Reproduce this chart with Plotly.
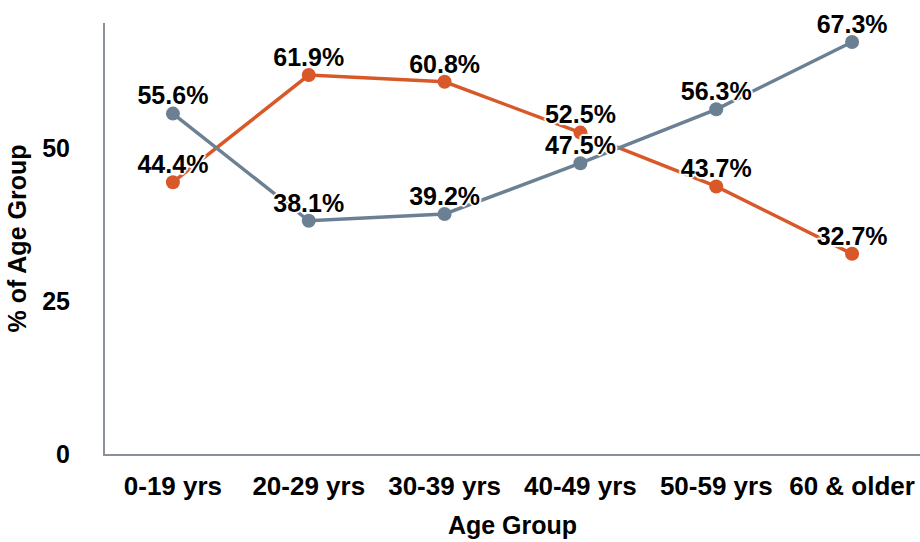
import plotly.graph_objects as go

categories = ["0-19 yrs", "20-29 yrs", "30-39 yrs", "40-49 yrs", "50-59 yrs", "60 & older"]
series_orange = [44.4, 61.9, 60.8, 52.5, 43.7, 32.7]
series_gray = [55.6, 38.1, 39.2, 47.5, 56.3, 67.3]
y_ticks = [0, 25, 50]

ORANGE = "#d95829"
GRAY = "#6c8093"
FONT = "Liberation Sans"
halo = ("1px 1px 1px white, -1px -1px 1px white, 1px -1px 1px white, -1px 1px 1px white, "
        "2px 0 1px white, -2px 0 1px white, 0 2px 1px white, 0 -2px 1px white")

fig = go.Figure()
series = [(series_orange, ORANGE), (series_gray, GRAY)]
for vals, col in series:
    fig.add_trace(go.Scatter(
        x=categories, y=vals, mode="lines+markers",
        line=dict(color=col, width=3.5),
        marker=dict(color=col, size=14),
        cliponaxis=False, showlegend=False, hoverinfo="skip",
    ))
for vals, col in series:
    fig.add_trace(go.Scatter(
        x=categories, y=vals, mode="markers+text",
        marker=dict(color="rgba(0,0,0,0)", size=3),
        texttemplate="%{y:.1f}%", textposition="top center",
        textfont=dict(family=FONT, size=25, color="black", weight="bold", shadow=halo),
        cliponaxis=False, showlegend=False, hoverinfo="skip",
    ))

fig.update_layout(
    width=920, height=542,
    margin=dict(l=105, r=0, t=23, b=88),
    paper_bgcolor="white", plot_bgcolor="white",
    font=dict(family=FONT, size=25, color="black", weight="bold"),
    xaxis=dict(
        type="category", range=[-0.5, 5.5],
        showline=True, linecolor="#8a9099", linewidth=2,
        showgrid=False, ticks="", ticklabelstandoff=8,
        title=dict(text="Age Group", font=dict(family=FONT, size=25, weight="bold"), standoff=16),
        tickfont=dict(family=FONT, size=26, weight="bold"),
    ),
    yaxis=dict(
        range=[0, 70.4], tickvals=y_ticks,
        showline=True, linecolor="#8a9099", linewidth=2,
        showgrid=False, zeroline=False, ticks="", ticklabelstandoff=28,
        title=dict(text="% of Age Group", font=dict(family=FONT, size=25, weight="bold"), standoff=8),
        tickfont=dict(family=FONT, size=25, weight="bold"),
    ),
)

fig.write_html("out.html")
